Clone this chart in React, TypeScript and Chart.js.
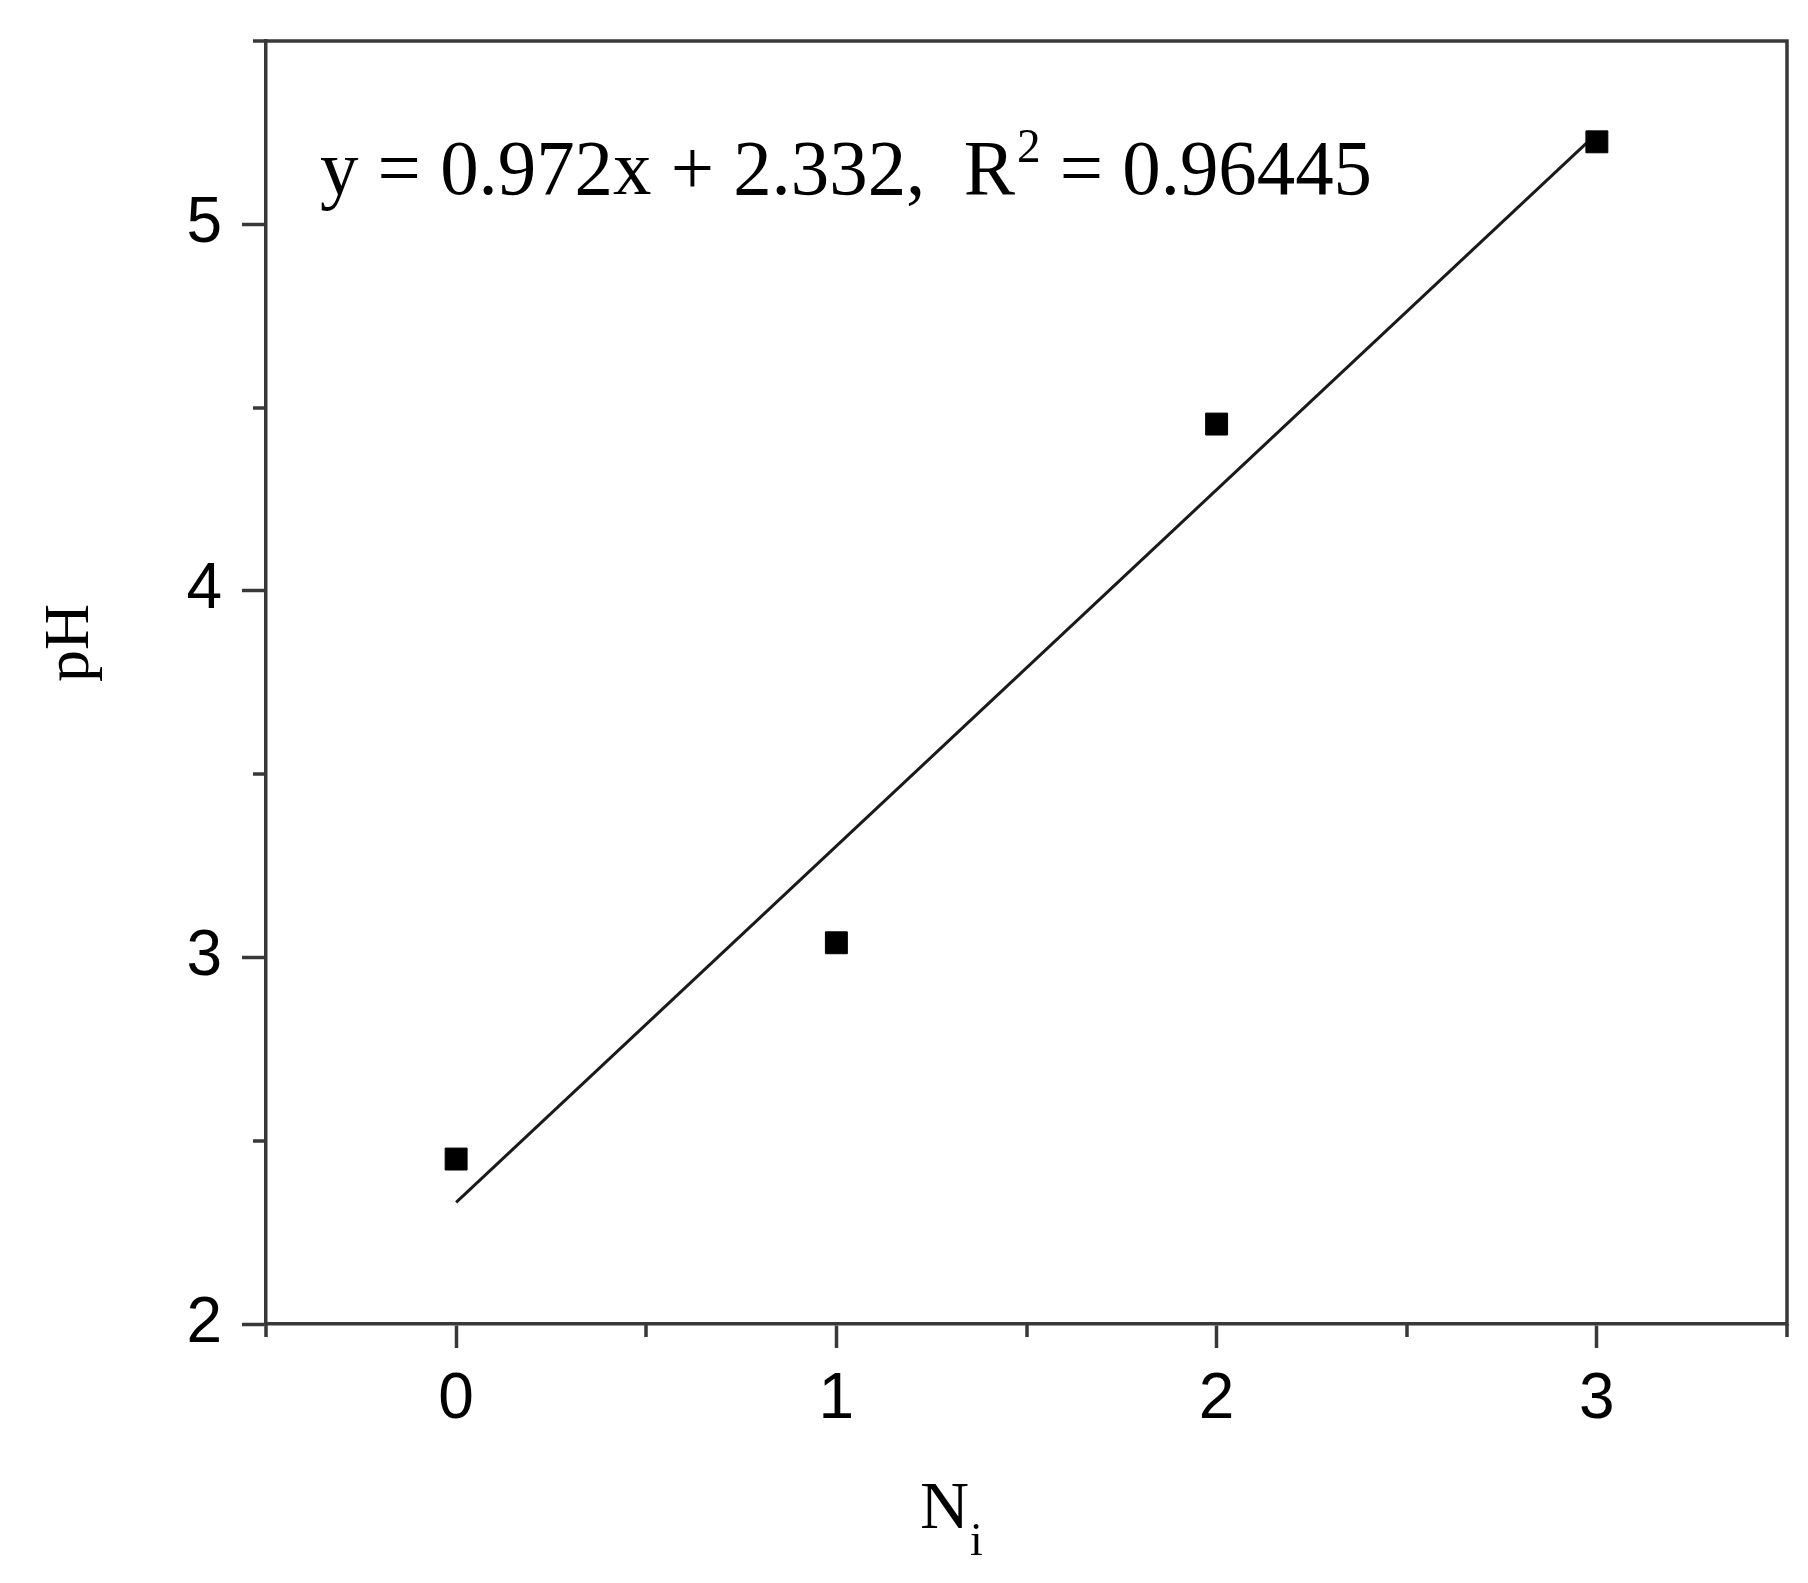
import React, { useEffect, useRef } from 'react';
import { Chart, registerables } from 'chart.js';

Chart.register(...registerables);

// ---- data ----
const xValues = [0, 1, 2, 3];
const pHValues = [2.45, 3.04, 4.455, 5.225];
const fitX = [0, 3];
const fitY = [2.332, 5.248];
const xMajorTicks = [0, 1, 2, 3];
const xMinorTicks = [-0.5, 0.5, 1.5, 2.5, 3.5];
const yMajorTicks = [2, 3, 4, 5];
const yMinorTicks = [2.5, 3.5, 4.5, 5.5];
const xRange = [-0.5, 3.5];
const yRange = [2, 5.5];
const eqMain = 'y = 0.972x + 2.332,  R';
const eqSup = '2';
const eqTail = ' = 0.96445';
const xTitleMain = 'N';
const xTitleSub = 'i';
const yTitle = 'pH';

const AXIS = '#383838';
const AXIS_W = 3.5;
const SERIF = '"Liberation Serif", "Times New Roman", serif';
const SANS = '"Liberation Sans", Arial, sans-serif';

const decorPlugin = {
  id: 'decor',
  afterDraw(chart: any) {
    const { ctx, chartArea: a, scales } = chart;
    ctx.save();
    ctx.strokeStyle = AXIS;
    ctx.lineWidth = AXIS_W;
    ctx.lineCap = 'butt';
    // top and right frame
    ctx.beginPath();
    ctx.moveTo(a.left - 1.75, a.top);
    ctx.lineTo(a.right + 1.75, a.top);
    ctx.moveTo(a.right, a.top);
    ctx.lineTo(a.right, a.bottom + 1.75);
    ctx.stroke();
    // minor ticks
    ctx.beginPath();
    for (const v of xMinorTicks) {
      const px = Math.round(scales.x.getPixelForValue(v));
      ctx.moveTo(px, a.bottom);
      ctx.lineTo(px, a.bottom + 13);
    }
    for (const v of yMinorTicks) {
      const py = Math.round(scales.y.getPixelForValue(v));
      ctx.moveTo(a.left - 13, py);
      ctx.lineTo(a.left, py);
    }
    ctx.stroke();

    ctx.fillStyle = '#000';
    // y title
    ctx.save();
    ctx.translate(88, 643);
    ctx.rotate(-Math.PI / 2);
    ctx.font = `64px ${SERIF}`;
    ctx.textAlign = 'center';
    ctx.textBaseline = 'alphabetic';
    ctx.fillText(yTitle, 0, 0);
    ctx.restore();

    // x title
    ctx.textBaseline = 'alphabetic';
    ctx.textAlign = 'left';
    ctx.font = `68px ${SERIF}`;
    const nx = 920;
    ctx.fillText(xTitleMain, nx, 1528);
    const wN = ctx.measureText(xTitleMain).width;
    ctx.font = `46px ${SERIF}`;
    ctx.fillText(xTitleSub, nx + wN + 1, 1555);

    // equation (slightly condensed, like the reference)
    ctx.save();
    ctx.translate(320, 194);
    ctx.scale(0.985, 1);
    let ex = 0;
    ctx.font = `78px ${SERIF}`;
    ctx.fillText(eqMain, ex, 0);
    ex += ctx.measureText(eqMain).width + 2;
    ctx.font = `48px ${SERIF}`;
    ctx.fillText(eqSup, ex, -32);
    ex += ctx.measureText(eqSup).width;
    ctx.font = `78px ${SERIF}`;
    ctx.fillText(eqTail, ex, 0);
    ctx.restore();
    ctx.restore();
  },
};

export default function App() {
  const ref = useRef<HTMLCanvasElement | null>(null);

  useEffect(() => {
    const canvas = ref.current;
    if (!canvas) return;
    const chart = new Chart(canvas, {
      type: 'scatter',
      data: {
        datasets: [
          {
            label: 'pH',
            data: xValues.map((x, i) => ({ x, y: pHValues[i] })),
            pointStyle: 'rect',
            pointRadius: 15.5,
            pointHoverRadius: 15.5,
            backgroundColor: '#000',
            borderColor: '#000',
            borderWidth: 1,
            showLine: false,
          },
          {
            label: 'fit',
            data: fitX.map((x, i) => ({ x, y: fitY[i] })),
            showLine: true,
            pointRadius: 0,
            borderColor: '#1a1a1a',
            borderWidth: 3,
            fill: false,
          },
        ],
      },
      options: {
        animation: false,
        responsive: false,
        devicePixelRatio: 1,
        events: [],
        layout: { padding: { left: 0, top: 41, right: 21, bottom: 0 } },
        plugins: {
          legend: { display: false },
          tooltip: { enabled: false },
          title: { display: false },
        },
        scales: {
          x: {
            type: 'linear',
            min: xRange[0],
            max: xRange[1],
            afterBuildTicks: (s: any) => {
              s.ticks = xMajorTicks.map((v) => ({ value: v }));
            },
            afterFit: (s: any) => {
              s.height = 1583 - 1324;
              s.paddingLeft = 0;
              s.paddingRight = 0;
            },
            ticks: {
              color: '#000',
              font: { family: SANS, size: 64 },
              padding: 14,
              maxRotation: 0,
              autoSkip: false,
            },
            grid: {
              drawOnChartArea: false,
              drawTicks: true,
              tickLength: 24,
              tickWidth: AXIS_W,
              tickColor: AXIS,
            },
            border: { display: true, color: AXIS, width: AXIS_W },
          },
          y: {
            type: 'linear',
            min: yRange[0],
            max: yRange[1],
            afterBuildTicks: (s: any) => {
              s.ticks = yMajorTicks.map((v) => ({ value: v }));
            },
            afterFit: (s: any) => {
              s.width = 266;
              s.paddingTop = 0;
              s.paddingBottom = 0;
            },
            ticks: {
              color: '#000',
              font: { family: SANS, size: 64 },
              padding: 20,
              autoSkip: false,
            },
            grid: {
              drawOnChartArea: false,
              drawTicks: true,
              tickLength: 24,
              tickWidth: AXIS_W,
              tickColor: AXIS,
            },
            border: { display: true, color: AXIS, width: AXIS_W },
          },
        },
      },
      plugins: [decorPlugin],
    });
    return () => chart.destroy();
  }, []);

  return (
    <div style={{ position: 'absolute', left: 0, top: 0, width: 1808, height: 1583, background: '#fff' }}>
      <canvas ref={ref} width={1808} height={1583} style={{ display: 'block', width: 1808, height: 1583 }} />
    </div>
  );
}
